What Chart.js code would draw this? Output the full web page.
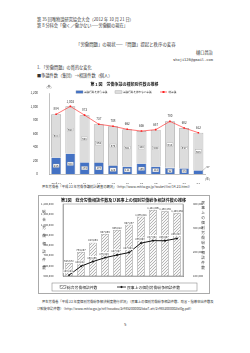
<!DOCTYPE html>
<html><head><meta charset="utf-8">
<script src="https://cdn.jsdelivr.net/npm/chart.js@4.4.1/dist/chart.umd.min.js"></script>
<style>
html,body{margin:0;padding:0;background:#fff;}
body{width:250px;height:353px;position:relative;overflow:hidden;font-family:"Noto Sans CJK JP","Noto Sans",sans-serif;color:#333;}
.t{position:absolute;font-size:4.2px;line-height:4.2px;white-space:nowrap;}
#c1{position:absolute;left:20px;top:78px;}
#box2{position:absolute;left:38px;top:195px;width:172px;height:99px;border:0.6px solid #aaa;box-sizing:border-box;}
#c2{position:absolute;left:38px;top:195px;}
</style></head><body>
<div class="t" style="left:37px;top:17px;">第 35 回唯物論研究協会大会（2012 年 10 月 21 日）</div>
<div class="t" style="left:37px;top:23px;">第 8 分科会「働く／働かない——労働観の現在」</div>
<div class="t" style="left:76px;top:42px;font-size:4.4px;">「労働問題」の現状——「問題」提起と秩序の変容</div>
<div class="t" style="left:196px;top:50px;">樋口昌治</div>
<div class="t" style="left:173px;top:58px;font-family:'DejaVu Sans Mono',monospace;font-size:3.7px;">shoji128@gmail.com</div>
<div class="t" style="left:37px;top:65px;">1. 「労働問題」の質的な変化</div>
<div class="t" style="left:37px;top:73px;">■争議件数（集団）→相談件数（個人）</div>
<canvas id="c1" width="195" height="106"></canvas>
<div class="t" style="left:42px;top:185px;font-size:3.3px;">厚生労働省「平成 23 年労働争議統計調査の概況」（http://www.mhlw.go.jp/toukei/list/14-23.html）</div>
<div id="box2"></div>
<canvas id="c2" width="172" height="99"></canvas>
<div class="t" style="left:42px;top:300px;font-size:3.3px;">厚生労働省「平成 23 年度個別労働紛争解決制度施行状況」（民事上の個別労働紛争相談件数、助言・指導申出件数及</div>
<div class="t" style="left:37px;top:307px;font-size:3.3px;">び斡旋申請件数）（http://www.mhlw.go.jp/stf/houdou/2r9852000002bkz7-att/2r9852000002bl0g.pdf）</div>
<div class="t" style="left:124px;top:322px;">5</div>
<script>
// ---- Chart 1 data ----
const years1 = ['平成13','14','15','16','17','18','19','20','21','22','23'];
const withAction = [246,304,174,173,129,111,156,112,92,85,57];
const withoutAction = [638,698,698,564,579,551,480,545,688,597,555];
const totalDisputes = [884,1002,872,737,708,662,636,657,780,682,612];
const ticks1 = [0,200,400,600,800,1000,1200];
const series1 = ['争議行為を伴う争議','争議行為を伴わない争議','総争議'];

// ---- Chart 2 data ----
const years2 = ['14年度','15年度','16年度','17年度','18年度','19年度','20年度','21年度','22年度','23年度'];
const consultations = [625572,734257,823864,907869,946012,997237,1075021,1141006,1130234,1109454];
const civilDisputes = [103194,140822,160166,176429,187387,197904,236993,247302,246907,256343];
const ticks2Left = [500000,600000,700000,800000,900000,1000000,1100000,1200000];
const ticks2Right = [100000,200000,300000,400000];
const series2 = ['総合労働相談件数','民事上の個別労働紛争相談件数'];

const FONT = "'Noto Sans CJK JP','Noto Sans',sans-serif";
const fmt = v => v.toLocaleString('en-US');

function boxLabel(ctx, txt, x, y, size){
  ctx.font = size + "px " + FONT;
  const w = ctx.measureText(txt).width + 1.4, h = size + 0.6;
  ctx.fillStyle = '#fff';
  ctx.fillRect(x - w/2, y - h/2, w, h);
  ctx.strokeStyle = '#999'; ctx.lineWidth = 0.3;
  ctx.strokeRect(x - w/2, y - h/2, w, h);
  ctx.fillStyle = '#222'; ctx.textAlign = 'center'; ctx.textBaseline = 'middle';
  ctx.fillText(txt, x, y + 0.1);
}

const plugin1 = {
  id: 'p1',
  afterDatasetsDraw(chart){
    const ctx = chart.ctx, ca = chart.chartArea;
    const m0 = chart.getDatasetMeta(0), m1 = chart.getDatasetMeta(1), m2 = chart.getDatasetMeta(2);
    ctx.save();
    m0.data.forEach((bar, i) => {
      const cy = (bar.y + bar.base) / 2;
      if (i === m0.data.length - 1) {
        const lx = bar.x + 9, ly = bar.y - 3;
        ctx.strokeStyle = '#777'; ctx.lineWidth = 0.4;
        ctx.beginPath(); ctx.moveTo(bar.x + 3, bar.y + 1.5); ctx.lineTo(lx - 1.5, ly + 0.5); ctx.stroke();
        ctx.font = "2.8px " + FONT; ctx.fillStyle = '#333'; ctx.textAlign = 'left'; ctx.textBaseline = 'middle';
        ctx.fillText(String(withAction[i]), lx - 1, ly);
      } else {
        boxLabel(ctx, String(withAction[i]), bar.x, cy, 2.8);
      }
    });
    m1.data.forEach((bar, i) => {
      boxLabel(ctx, String(withoutAction[i]), bar.x, (bar.y + bar.base) / 2, 2.8);
    });
    ctx.font = "3px " + FONT; ctx.fillStyle = '#333'; ctx.textAlign = 'center'; ctx.textBaseline = 'middle';
    m2.data.forEach((pt, i) => { ctx.fillText(fmt(totalDisputes[i]), pt.x, pt.y - 5); });
    // axis units
    ctx.font = "3px " + FONT; ctx.fillStyle = '#333';
    ctx.fillText('(件)', ca.left, ca.top - 6);
    ctx.textAlign = 'left';
    ctx.fillText('(年)', ca.right - 0.5, ca.bottom + 4.5);
    // title
    ctx.font = "bold 4px " + FONT; ctx.fillStyle = '#222'; ctx.textAlign = 'center';
    ctx.fillText('第 1 図　労働争議の種類別件数の推移', 104.5, 6);
    // legend
    const ly = 14;
    ctx.font = "2.6px " + FONT; ctx.textAlign = 'left';
    ctx.fillStyle = '#4472c4'; ctx.fillRect(56, ly - 1.2, 7, 2.4);
    ctx.strokeStyle = '#8896b0'; ctx.lineWidth = 0.4; ctx.strokeRect(56, ly - 1.2, 7, 2.4);
    ctx.fillStyle = '#333'; ctx.fillText(series1[0], 64, ly);
    ctx.fillStyle = '#dcdcdc'; ctx.fillRect(95, ly - 1.2, 7, 2.4);
    ctx.strokeStyle = '#999'; ctx.strokeRect(95, ly - 1.2, 7, 2.4);
    ctx.fillStyle = '#333'; ctx.fillText(series1[1], 103, ly);
    ctx.strokeStyle = '#ff3b3b'; ctx.lineWidth = 0.7;
    ctx.beginPath(); ctx.moveTo(140, ly); ctx.lineTo(147, ly); ctx.stroke();
    ctx.fillStyle = '#ff2020'; ctx.fillRect(142.5, ly - 1, 2, 2);
    ctx.fillStyle = '#333'; ctx.fillText(series1[2], 148.5, ly);
    ctx.restore();
  }
};

new Chart(document.getElementById('c1'), {
  type: 'bar',
  data: {
    labels: years1,
    datasets: [
      { label: series1[0], data: withAction, stack: 's', backgroundColor: '#4472c4', borderColor: '#8c9ab5', borderWidth: 0.6, order: 2 },
      { label: series1[1], data: withoutAction, stack: 's', backgroundColor: '#dcdcdc', borderColor: '#a6a6a6', borderWidth: 0.8, order: 2 },
      { label: series1[2], data: totalDisputes, type: 'line', borderColor: '#ff3b3b', borderWidth: 0.7, pointStyle: 'rect', pointRadius: 1.1, pointBackgroundColor: '#ff2020', pointBorderColor: '#ff2020', pointBorderWidth: 0, order: 1 }
    ]
  },
  options: {
    responsive: false, devicePixelRatio: 1, animation: false,
    layout: { padding: { left: 0, right: 9.5, top: 15, bottom: 0 } },
    plugins: { legend: { display: false }, tooltip: { enabled: false }, title: { display: false } },
    datasets: { bar: { categoryPercentage: 0.7, barPercentage: 1 } },
    scales: {
      x: { stacked: true, grid: { display: false }, border: { color: '#999', width: 0.6 },
           ticks: { font: { size: 3.2, family: FONT }, color: '#333', padding: 1, maxRotation: 0 },
           afterFit: s => { s.height = 10; } },
      y: { stacked: true, min: 0, max: 1200, grid: { display: false }, border: { color: '#999', width: 0.6 },
           afterBuildTicks: s => { s.ticks = ticks1.map(v => ({ value: v })); },
           ticks: { font: { size: 3, family: FONT }, color: '#333', padding: 3, callback: v => fmt(v) },
           afterFit: s => { s.width = 29; } }
    }
  },
  plugins: [plugin1]
});

// ---- Chart 2 ----
function makePattern(){
  const p = document.createElement('canvas'); p.width = 3; p.height = 3;
  const c = p.getContext('2d');
  c.fillStyle = '#f7f7f7'; c.fillRect(0, 0, 3, 3);
  c.fillStyle = '#b5b5b5'; c.fillRect(2, 0, 1, 1); c.fillRect(1, 1, 1, 1); c.fillRect(0, 2, 1, 1);
  return document.getElementById('c2').getContext('2d').createPattern(p, 'repeat');
}

const plugin2 = {
  id: 'p2',
  afterDatasetsDraw(chart){
    const ctx = chart.ctx, ca = chart.chartArea;
    ctx.save();
    ctx.strokeStyle = '#777'; ctx.lineWidth = 0.5;
    ctx.strokeRect(ca.left, ca.top, ca.right - ca.left, ca.bottom - ca.top);
    const m0 = chart.getDatasetMeta(0), m1 = chart.getDatasetMeta(1);
    ctx.font = "2.6px " + FONT; ctx.fillStyle = '#222'; ctx.textAlign = 'center'; ctx.textBaseline = 'middle';
    m0.data.forEach((bar, i) => { ctx.fillText(fmt(consultations[i]), bar.x, bar.y - 2.3); });
    m1.data.forEach((pt, i) => {
      const t = fmt(civilDisputes[i]);
      const w = ctx.measureText(t).width + 1;
      const x = pt.x - 1, y = pt.y - 4;
      ctx.fillStyle = '#fff'; ctx.fillRect(x - w/2, y - 1.6, w, 3.2);
      ctx.fillStyle = '#222'; ctx.fillText(t, x, y);
    });
    ctx.font = "bold 4.1px " + FONT; ctx.fillStyle = '#222';
    ctx.fillText('第1図　総合労働相談件数及び民事上の個別労働紛争相談件数の推移', 85.5, 5);
    ctx.font = "3.6px " + FONT; ctx.fillStyle = '#333';
    [...series2[0]].forEach((ch, i) => ctx.fillText(ch, 6, 17 + i * 8));
    [...series2[1]].forEach((ch, i) => ctx.fillText(ch, 165, 8 + i * 5));
    ctx.strokeStyle = '#777'; ctx.lineWidth = 0.5;
    ctx.strokeRect(14, 88, 145, 8);
    const ly = 92;
    ctx.fillStyle = chart.data.datasets[0].backgroundColor; ctx.fillRect(22, ly - 1.5, 6, 3);
    ctx.strokeStyle = '#555'; ctx.lineWidth = 0.4; ctx.strokeRect(22, ly - 1.5, 6, 3);
    ctx.font = "3.8px " + FONT; ctx.fillStyle = '#222'; ctx.textAlign = 'left';
    ctx.fillText(series2[0], 29, ly + 0.2);
    ctx.strokeStyle = '#111'; ctx.lineWidth = 0.8;
    ctx.beginPath(); ctx.moveTo(79, ly); ctx.lineTo(88, ly); ctx.stroke();
    ctx.fillStyle = '#111'; ctx.beginPath(); ctx.moveTo(83.5, ly - 1.3); ctx.lineTo(84.8, ly); ctx.lineTo(83.5, ly + 1.3); ctx.lineTo(82.2, ly); ctx.closePath(); ctx.fill();
    ctx.fillStyle = '#222'; ctx.fillText(series2[1], 89, ly + 0.2);
    ctx.restore();
  }
};

new Chart(document.getElementById('c2'), {
  type: 'bar',
  data: {
    labels: years2,
    datasets: [
      { label: series2[0], data: consultations, yAxisID: 'y', backgroundColor: makePattern(), borderColor: '#555', borderWidth: 0.5, order: 2 },
      { label: series2[1], data: civilDisputes, yAxisID: 'y1', type: 'line', borderColor: '#111', borderWidth: 1, pointStyle: 'rectRot', pointRadius: 1.2, pointBackgroundColor: '#111', pointBorderWidth: 0, order: 1 }
    ]
  },
  options: {
    responsive: false, devicePixelRatio: 1, animation: false,
    layout: { padding: { left: 0, right: 0, top: 9, bottom: 10 } },
    plugins: { legend: { display: false }, tooltip: { enabled: false }, title: { display: false } },
    datasets: { bar: { categoryPercentage: 0.62, barPercentage: 1 } },
    scales: {
      x: { grid: { display: false }, border: { color: '#777', width: 0.5 },
           ticks: { font: { size: 2.9, family: FONT }, color: '#333', padding: 1, maxRotation: 0 },
           afterFit: s => { s.height = 8; } },
      y: { position: 'left', min: 500000, max: 1200000, grid: { display: false }, border: { color: '#777', width: 0.5 },
           afterBuildTicks: s => { s.ticks = ticks2Left.map(v => ({ value: v })); },
           ticks: { font: { size: 2.8, family: FONT }, color: '#333', padding: 1.5, callback: v => fmt(v) },
           afterFit: s => { s.width = 25; } },
      y1: { position: 'right', min: 100000, max: 400000, grid: { display: false }, border: { color: '#777', width: 0.5 },
           afterBuildTicks: s => { s.ticks = ticks2Right.map(v => ({ value: v })); },
           ticks: { font: { size: 2.8, family: FONT }, color: '#333', padding: 2, callback: v => fmt(v) },
           afterFit: s => { s.width = 27; } }
    }
  },
  plugins: [plugin2]
});
</script>
</body></html>
